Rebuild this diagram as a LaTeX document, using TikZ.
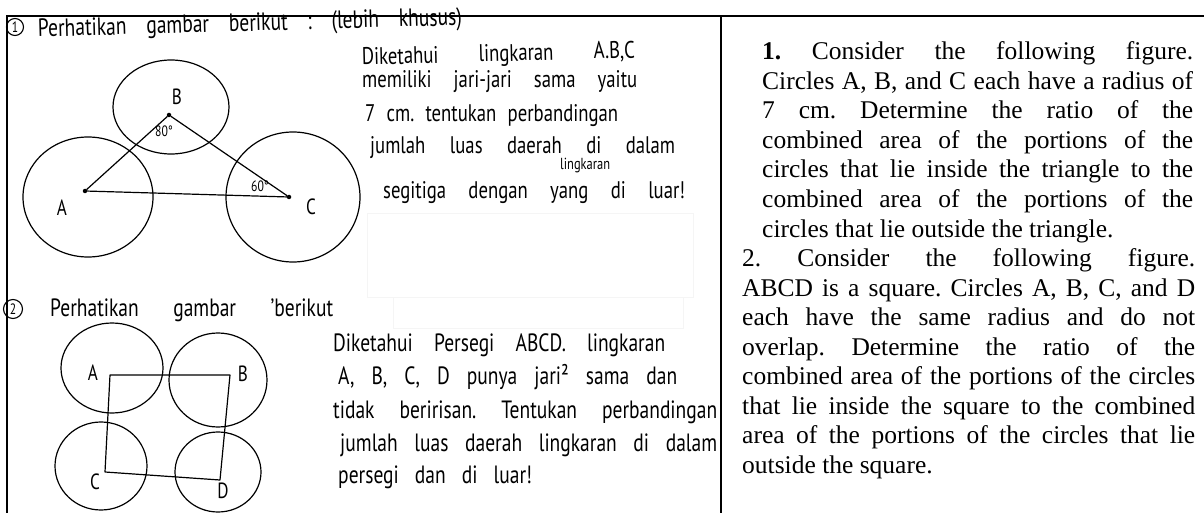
\documentclass[tikz,border=0pt]{standalone}
\usepackage{fontspec}
\setmainfont{Liberation Serif}
\newfontfamily\handfont[FakeStretch=0.78]{PT Sans}
\tikzset{
  hw/.style={inner sep=0pt, font=\handfont\fontsize{24pt}{26pt}\selectfont, anchor=base west},
  hwbig/.style={inner sep=0pt, font=\handfont\fontsize{25pt}{27pt}\selectfont, anchor=base west},
  hwsmall/.style={inner sep=0pt, font=\handfont\fontsize{16pt}{17pt}\selectfont, anchor=base west},
  hwtitle/.style={inner sep=0pt, font=\handfont\fontsize{25pt}{27pt}\selectfont, anchor=base west},
  hwlab/.style={inner sep=0pt, font=\handfont\fontsize{22pt}{24pt}\selectfont},
  hwdeg/.style={inner sep=0pt, font=\handfont\fontsize{15pt}{16pt}\selectfont},
  numlab/.style={draw, circle, line width=1.1pt, inner sep=0pt, minimum size=17pt, font=\handfont\fontsize{15pt}{15pt}\selectfont},
  typed/.style={inner sep=0pt, font=\fontsize{25.5pt}{29.5pt}\selectfont\frenchspacing, anchor=base west},
  pen/.style={line width=1.2pt, line join=round, line cap=round},
  frame/.style={line width=1.5pt},
  dot/.style={circle, fill=black, inner sep=0pt, minimum size=4.5pt},
  ghost/.style={draw=black!4, line width=0.8pt},
}
\newcommand\hwl[6]{\node[#6] (#1) at (#2,#3) {\frenchspacing\makebox[#4pt][s]{#5}};}
\newcommand\tyl[5]{\node[typed] (#1) at (#2,#3) {\makebox[#4pt][s]{#5}};}
\begin{document}
\begin{tikzpicture}[x=1pt,y=-1pt]
\useasboundingbox (0,0) rectangle (1204,513);
\fill[white] (0,0) rectangle (1204,513);

% faint boxes
\draw[ghost] (367,213) rectangle (693,297);
\draw[ghost] (393,297) rectangle (683,328);

% ---------- part 1 (handwritten) ----------
\node[numlab] (n1) at (15,27) {1};
\hwl{title1}{38}{37}{424}{Perhatikan gambar berikut : (lebih khusus)}{hwtitle, rotate=1.6}

\draw[pen] (171,107) ellipse (58 and 47);
\draw[pen] (88,197) ellipse (65 and 60);
\draw[pen] (293,197) ellipse (67 and 65);

\node[dot] (pA) at (85,191) {};
\node[dot] (pB) at (169,115) {};
\node[dot] (pC) at (289,197) {};
\draw[pen] (pA) -- (pB) -- (pC) -- (pA);

\node[hwlab] (lA) at (62,208) {A};
\node[hwlab] (lB) at (177,97) {B};
\node[hwlab] (lC) at (311,207) {C};
\node[hwdeg] (d80) at (164,131) {80°};
\node[hwdeg] (d60) at (260,186) {60°};

\hwl{s1a}{362}{65}{273}{Diketahui lingkaran A.B,C}{hw, rotate=1.5}
\hwl{s1b}{362}{88}{275}{memiliki jari-jari sama yaitu}{hw}
\hwl{s1c}{365}{122}{253}{7 cm. tentukan perbandingan}{hw}
\hwl{s1d}{370}{154}{305}{jumlah luas daerah di dalam}{hw}
\node[hwsmall] (s1e) at (560,170) {lingkaran};
\hwl{s1f}{383}{199}{302}{segitiga dengan yang di luar!}{hw}

% ---------- part 2 (handwritten) ----------
\node[numlab, minimum size=19pt] (n2) at (13,309) {2};
\hwl{title2}{50}{316}{283}{Perhatikan gambar ’berikut}{hwtitle}

\draw[pen] (112,368) ellipse (51 and 45);
\draw[pen] (218,380) ellipse (49 and 47);
\draw[pen] (101,466) ellipse (46 and 44);
\draw[pen] (218,472) ellipse (43 and 40);

\coordinate (qA) at (110,375);
\coordinate (qB) at (230,375);
\coordinate (qD) at (220,480);
\coordinate (qC) at (105,472);
\draw[pen] (qA) -- (qB) -- (qD) -- (qC) -- cycle;

\node[hwlab] (mA) at (93,373) {A};
\node[hwlab] (mB) at (243,374) {B};
\node[hwlab] (mC) at (95,482) {C};
\node[hwlab] (mD) at (223,491) {D};

\hwl{s2a}{333}{351}{332}{Diketahui Persegi ABCD. lingkaran}{hwbig}
\hwl{s2b}{338}{384}{339}{A, B, C, D punya jari² sama dan}{hwbig}
\hwl{s2c}{333}{418}{384}{tidak beririsan. Tentukan perbandingan}{hwbig}
\hwl{s2d}{340}{451}{377}{jumlah luas daerah lingkaran di dalam}{hwbig}
\hwl{s2e}{338}{483}{194}{persegi dan di luar!}{hwbig}

% ---------- frame ----------
\draw[frame] (7,513) -- (7,16) -- (1204,16);
\draw[frame] (721,16) -- (721,513);

% ---------- typed translation ----------
\tyl{r0}{762}{60}{431}{\textbf{1.} Consider the following figure.}
\tyl{r1}{762}{89.5}{431}{Circles A, B, and C each have a radius of}
\tyl{r2}{762}{119}{431}{7 cm. Determine the ratio of the}
\tyl{r3}{762}{148.5}{431}{combined area of the portions of the}
\tyl{r4}{762}{178}{431}{circles that lie inside the triangle to the}
\tyl{r5}{762}{207.5}{431}{combined area of the portions of the}
\node[typed] (r6) at (762,237) {circles that lie outside the triangle.};
\tyl{r7}{742}{266.5}{453}{2. Consider the following figure.}
\tyl{r8}{742}{296}{453}{ABCD is a square. Circles A, B, C, and D}
\tyl{r9}{742}{325.5}{453}{each have the same radius and do not}
\tyl{r10}{742}{355}{453}{overlap. Determine the ratio of the}
\tyl{r11}{742}{384.5}{453}{combined area of the portions of the circles}
\tyl{r12}{742}{414}{453}{that lie inside the square to the combined}
\tyl{r13}{742}{443.5}{453}{area of the portions of the circles that lie}
\node[typed] (r14) at (742,473) {outside the square.};
\end{tikzpicture}
\end{document}
